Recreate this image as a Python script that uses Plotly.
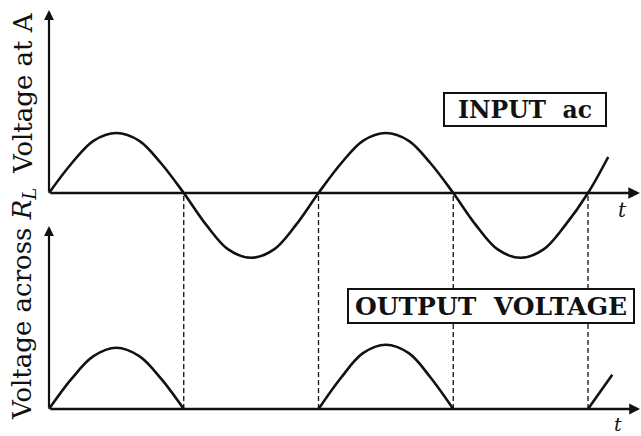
import plotly.graph_objects as go

# ---------------- data ----------------
# time in units of half-periods (zero crossings at 0,1,2,3,4)
t_input = [0, 0.17, 0.33, 0.5, 0.67, 0.83, 1.0,
           1.17, 1.33, 1.5, 1.67, 1.83, 2.0,
           2.17, 2.33, 2.5, 2.67, 2.83, 3.0,
           3.17, 3.33, 3.5, 3.67, 3.83, 4.0, 4.15]
v_input = [0, 0.5, 0.87, 1.0, 0.87, 0.5, 0,
           -0.54, -0.94, -1.08, -0.94, -0.54, 0,
           0.5, 0.87, 1.0, 0.87, 0.5, 0,
           -0.54, -0.94, -1.08, -0.94, -0.54, 0, 0.6]

t_output = [0, 0.17, 0.33, 0.5, 0.67, 0.83, 1.0, None,
            2.0, 2.17, 2.33, 2.5, 2.67, 2.83, 3.0, None,
            4.0, 4.18]
v_output = [0, 0.51, 0.88, 1.02, 0.88, 0.51, 0, None,
            0, 0.53, 0.93, 1.07, 0.93, 0.53, 0, None,
            0, 0.57]

zero_crossings = [1, 2, 3, 4]

label_top = "Voltage at A"
label_bottom = "Voltage across <i>R</i><sub><i>L</i></sub>"
box_input = "INPUT\u00a0\u00a0ac"
box_output = "OUTPUT\u00a0\u00a0VOLTAGE"
t_label = "<i>t</i>"

# ---------------- layout geometry (pixels) ----------------
W, H = 641, 436
X0_PX = 49          # origin of time axis
HALF_PX = 134.75    # pixels per half period
TOP_BASE_PX = 193   # baseline of input panel
BOT_BASE_PX = 409   # baseline of output panel
UNIT_PX = 60        # pixels per unit voltage
X_END_PX = 640
Y_TIP_TOP_PX = 10
Y_TIP_BOT_PX = 226

FONT = "DejaVu Serif"
INK = "#111111"

x_range = [-X0_PX / HALF_PX, (W - X0_PX) / HALF_PX]
y_range = [-(H - TOP_BASE_PX) / UNIT_PX, TOP_BASE_PX / UNIT_PX]
y2_range = [-(H - BOT_BASE_PX) / UNIT_PX, BOT_BASE_PX / UNIT_PX]

x_end = (X_END_PX - X0_PX) / HALF_PX
y_tip_top = (TOP_BASE_PX - Y_TIP_TOP_PX) / UNIT_PX
y_tip_bot = (BOT_BASE_PX - Y_TIP_BOT_PX) / UNIT_PX


def px_x(px):
    return px / W


def px_y(py):
    return 1 - py / H


fig = go.Figure()

fig.add_trace(go.Scatter(
    x=t_input, y=v_input, mode="lines",
    line=dict(color=INK, width=2.6, shape="spline", smoothing=1.0),
    yaxis="y", hoverinfo="skip"))

fig.add_trace(go.Scatter(
    x=t_output, y=v_output, mode="lines", connectgaps=False,
    line=dict(color=INK, width=2.6, shape="spline", smoothing=1.0),
    yaxis="y2", hoverinfo="skip"))

shapes = []
for tz in zero_crossings:
    shapes.append(dict(type="line", xref="x", yref="paper",
                       x0=tz, x1=tz,
                       y0=px_y(BOT_BASE_PX), y1=px_y(TOP_BASE_PX),
                       line=dict(color=INK, width=1.3, dash="5px,3px")))

annotations = []


def axis_arrow(x, y, ax, ay, yref, width):
    return dict(x=x, y=y, ax=ax, ay=ay, xref="x", yref=yref,
                axref="x", ayref=yref, text="", showarrow=True,
                arrowhead=2, arrowsize=0.9, arrowwidth=width,
                arrowcolor=INK, standoff=0, startstandoff=0)


# top panel axes
annotations.append(axis_arrow(0, y_tip_top, 0, 0, "y", 2.2))
annotations.append(axis_arrow(x_end, 0, 0, 0, "y", 2.6))
# bottom panel axes
annotations.append(axis_arrow(0, y_tip_bot, 0, 0, "y2", 2.2))
annotations.append(axis_arrow(x_end, 0, 0, 0, "y2", 2.4))

# boxed labels
annotations.append(dict(
    x=px_x(525), y=px_y(110), xref="paper", yref="paper",
    text="<b>" + box_input + "</b>", showarrow=False,
    xanchor="center", yanchor="middle",
    font=dict(family=FONT, size=23.5, color=INK),
    bordercolor=INK, borderwidth=2, borderpad=1, width=158, height=29,
    bgcolor="white"))
annotations.append(dict(
    x=px_x(491), y=px_y(305.5), xref="paper", yref="paper",
    text="<b>" + box_output + "</b>", showarrow=False,
    xanchor="center", yanchor="middle",
    font=dict(family=FONT, size=25, color=INK),
    bordercolor=INK, borderwidth=2, borderpad=1, width=282, height=30,
    bgcolor="white"))

# t labels
annotations.append(dict(
    x=px_x(622), y=px_y(210), xref="paper", yref="paper", text=t_label,
    showarrow=False, xanchor="center", yanchor="middle",
    font=dict(family=FONT, size=20, color=INK)))
annotations.append(dict(
    x=px_x(618), y=px_y(H), xref="paper", yref="paper", text=t_label,
    showarrow=False, xanchor="center", yanchor="bottom", borderpad=0,
    font=dict(family=FONT, size=19, color=INK)))

# rotated axis titles
annotations.append(dict(
    x=px_x(23), y=px_y(10), xref="paper", yref="paper", text=label_top,
    showarrow=False, textangle=-90, xanchor="center", yanchor="top",
    font=dict(family=FONT, size=26, color=INK)))
annotations.append(dict(
    x=px_x(23), y=px_y(422), xref="paper", yref="paper", text=label_bottom,
    showarrow=False, textangle=-90, xanchor="center", yanchor="bottom",
    font=dict(family=FONT, size=26, color=INK)))

fig.update_layout(
    width=W, height=H,
    margin=dict(l=0, r=0, t=0, b=0),
    paper_bgcolor="white", plot_bgcolor="white",
    showlegend=False,
    xaxis=dict(range=x_range, visible=False, fixedrange=True),
    yaxis=dict(range=y_range, visible=False, domain=[0, 1], fixedrange=True),
    yaxis2=dict(range=y2_range, visible=False, overlaying="y",
                fixedrange=True),
    shapes=shapes,
    annotations=annotations,
)

fig.write_html("out.html", config=dict(displayModeBar=False),
               post_script="document.body.style.margin='0';"
                           "document.body.style.overflow='hidden';")
